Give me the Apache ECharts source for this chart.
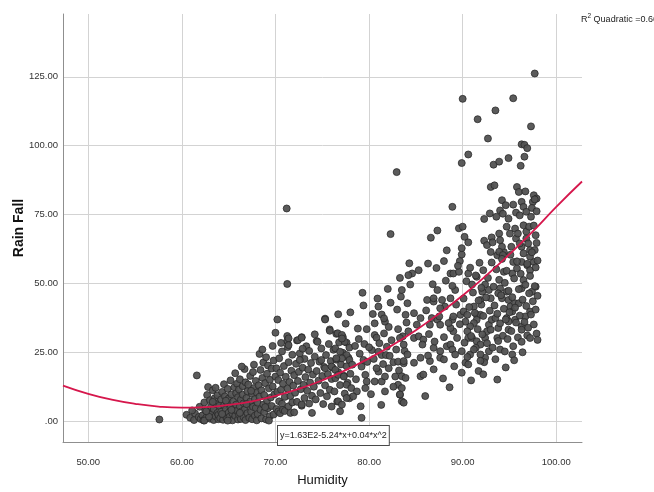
<!DOCTYPE html>
<html>
<head>
<meta charset="utf-8">
<script src="https://cdn.jsdelivr.net/npm/echarts@6/dist/echarts.min.js"></script>
<style>
html,body{margin:0;padding:0;background:#fff;}
#chart{width:654px;height:492px;}
</style>
</head>
<body>
<div id="chart"></div>
<script>
// ---- data ----
const humidityTicks = [50, 60, 70, 80, 90, 100];
const rainTicks = [0, 25, 50, 75, 100, 125];

// quadratic fit line, read at several humidity values
const curveHumidity = [47.3, 50, 52.5, 55, 57.5, 60, 62.5, 65, 67.5, 70, 72.5, 75, 77.5, 80, 82.5, 85, 87.5, 90, 92.5, 95, 97.5, 100, 102.75];
const curveRain = [12.9, 9.9, 7.8, 6.3, 5.3, 4.9, 5.1, 5.9, 7.2, 9.2, 11.7, 14.8, 18.5, 22.8, 27.6, 33.0, 39.1, 45.6, 52.8, 60.6, 68.9, 77.8, 87.0];

// observations [humidity, rain fall]
const obsLow = [
[57.6,0.6],[60.5,2.3],[60.9,1.2],[61.3,0.4],[61.4,2.8],[61.6,16.6],[61.8,1.5],[61.9,5.2],[62.0,0.8],[61.1,3.9],
[62.2,2.1],[62.3,0.3],[62.4,6.8],[62.5,4.0],[62.6,1.3],[62.7,9.5],[62.8,12.4],[62.9,3.2],[63.0,0.9],[63.0,7.6],[63.1,5.1],[63.2,2.5],[63.3,11.2],[63.4,0.4],[63.4,4.4],[63.5,8.3],[63.6,12.1],[63.6,1.8],[63.7,6.1],[63.8,3.0],[63.8,9.4],[63.9,0.7],[64.0,5.6],[62.4,0.2],[62.9,1.6],[63.3,7.0],[63.9,2.3],[62.6,3.6],
[64.1,1.1],[64.2,7.9],[64.2,3.4],[64.3,10.6],[64.4,0.5],[64.5,5.7],[64.5,13.4],[64.6,2.2],[64.6,9.0],[64.7,4.3],[64.8,0.9],[64.8,6.9],[64.9,11.7],[65.0,3.1],[65.0,8.2],[65.1,1.6],[65.2,14.8],[65.2,5.0],[65.3,9.7],[65.4,0.3],[65.4,2.8],[65.5,7.2],[65.6,12.3],[65.6,4.6],[65.7,17.4],[65.7,1.9],[65.8,6.0],[65.8,10.1],[65.9,3.7],[66.0,0.6],[66.0,8.7],[64.3,2.6],[64.9,0.2],[65.3,4.1],[65.9,13.6],[64.7,7.4],
[66.1,2.4],[66.1,11.5],[66.2,5.4],[66.2,15.2],[66.3,0.8],[66.3,7.8],[66.4,3.6],[66.5,12.7],[66.5,9.6],[66.6,1.4],[66.6,6.5],[66.7,18.9],[66.7,4.2],[66.8,14.1],[66.8,0.4],[66.9,8.4],[67.0,2.9],[67.0,10.8],[67.1,5.9],[67.1,13.3],[67.2,1.2],[67.3,7.1],[67.3,16.4],[67.4,3.4],[67.5,9.9],[67.5,0.7],[67.6,17.8],[67.6,5.2],[67.7,12.0],[67.8,2.0],[67.8,8.0],[67.9,14.6],[67.9,4.8],[68.0,10.4],[68.0,0.3],[66.4,19.8],[66.9,6.2],[67.4,11.0],[67.7,20.5],[66.2,3.0],
[68.1,6.7],[68.1,2.6],[68.2,13.0],[68.3,24.4],[68.3,8.9],[68.4,4.1],[68.4,18.6],[68.5,1.0],[68.5,11.2],[68.6,15.7],[68.7,6.0],[68.7,21.3],[68.8,3.3],[68.8,9.5],[68.9,13.8],[69.0,23.2],[69.0,0.6],[69.1,7.5],[69.1,17.2],[69.2,20.2],[69.2,4.7],[69.3,11.9],[69.4,1.8],[69.4,15.0],[69.5,8.6],[69.6,19.1],[69.6,5.5],[69.7,12.6],[69.8,2.4],[69.8,22.0],[69.9,9.8],[70.0,16.2],[70.0,32.1],[68.6,26.0],[69.3,0.2],[68.9,5.1],[69.7,27.3]
];
const obsMid = [
[70.1,19.2],[70.1,4.4],[70.2,36.9],[70.2,10.6],[70.3,3.5],[70.3,14.9],[70.4,7.2],[70.4,22.8],[70.5,2.9],[70.5,17.6],[70.6,11.4],[70.7,25.3],[70.7,6.3],[70.8,4.1],[70.8,13.6],[70.9,20.0],[71.0,8.8],[71.0,3.7],[71.1,16.1],[71.2,77.2],[71.26,49.8],[71.26,30.9],[71.26,29.1],[71.3,26.9],[71.3,11.8],[71.4,5.4],[71.4,21.4],[71.5,14.2],[71.6,3.0],[71.6,9.1],[71.7,18.3],[71.8,24.1],[71.8,6.8],[71.9,12.9],[72.0,3.2],[72.0,16.7],[70.6,28.4],
[72.1,10.3],[72.2,20.8],[72.3,29.3],[72.3,7.0],[72.4,14.6],[72.5,17.9],[72.6,24.6],[72.7,11.6],[72.8,30.5],[72.8,5.6],[72.9,19.4],[73.0,13.2],[73.1,8.4],[73.1,22.6],[73.2,16.0],[73.3,27.2],[73.4,11.0],[73.5,18.7],[73.6,6.4],[73.6,25.5],[73.7,14.0],[73.8,21.1],[73.9,9.2],[74.0,16.9],[72.9,26.3],
[74.1,12.5],[74.2,23.4],[74.3,7.9],[74.4,29.1],[74.4,18.2],[74.6,14.7],[74.7,21.6],[74.8,10.2],[74.9,26.4],[75.0,16.4],[75.1,6.2],[75.2,19.7],[75.3,37.2],[75.3,13.0],[75.4,24.0],[75.5,9.0],[75.6,17.1],[75.7,28.0],[75.8,33.3],[75.8,11.4],[75.9,21.8],[76.0,15.3],[76.0,5.3],[74.2,31.5],
[76.1,19.4],[76.2,25.9],[76.3,10.8],[76.4,15.6],[76.5,31.7],[76.5,22.3],[76.6,7.1],[76.7,17.8],[76.8,28.6],[76.9,13.1],[77.0,20.6],[77.2,30.5],[77.2,24.8],[77.3,16.5],[77.4,10.0],[77.5,35.4],[77.6,28.5],[77.6,19.9],[77.7,13.9],[77.8,23.0],[77.9,8.3],[78.0,17.2],[78.0,39.5],[76.7,38.8],[77.9,26.7],
[79.3,46.6],[82.3,43.0],[75.3,36.9],[75.8,32.8],[76.65,31.9],[77.1,31.3],[77.4,28.8],[77.1,30.0],[81.35,38.7],[80.6,35.5],[79.75,33.4],[80.6,31.25],[80.8,30.3],[81.6,31.85],[81.7,36.1],[81.6,37.3],[83.1,33.4],[78.9,29.8],[71.4,30.05],[71.4,27.6],[72.4,29.4],[72.8,30.3],[74.5,28.8],[76.4,26.4],[76.9,25.2],[77.6,24.0],[77.9,22.2],[77.1,22.8],[76.5,22.8],[79.4,22.2],[79.2,19.8],[80.3,25.8],[81.0,25.2],[81.35,24.0],[81.8,24.0],[82.2,23.7],[82.6,21.4],[83.1,21.6],[83.7,21.0],[72.6,22.2],[74.9,22.2],[75.3,19.2],[76.0,19.8],[76.4,18.6],[76.7,16.8],[77.3,16.2],[77.6,13.2],[78.1,12.0],[78.7,10.8],[78.3,9.0],[77.6,8.4],[76.7,7.2],[76.9,3.6],[77.1,6.0],[79.6,16.8],[79.75,14.4],[79.6,12.0],[80.6,14.4],[81.35,14.4],[81.0,18.0],[80.8,19.2],[82.1,19.2],[81.7,16.2],[82.8,16.2],[83.1,13.2],[83.5,12.0],[83.5,7.2],[83.3,9.6],[81.7,10.8],[79.2,1.2],[73.9,3.0],[72.8,6.0],
[78.2,20.5],[78.5,27.3],[78.6,15.2],[78.8,33.6],[79.0,24.5],[79.1,5.4],[79.5,28.0],[79.8,21.5],[80.0,26.8],[80.2,9.8],[80.4,38.9],[80.5,22.6],[80.9,44.5],[81.1,28.3],[81.3,5.9],[81.5,20.7],[81.9,27.0],[82.1,34.2],[82.4,29.4],[82.6,12.5],[82.9,26.0],[83.0,40.5],[83.2,18.4],[83.4,45.2],[83.6,30.8],[83.8,25.5],[84.0,35.8],[82.3,67.9],[82.95,90.4],[81.0,41.6],[82.0,48.0],[83.3,52.0],[84.3,57.3],[79.4,42.0]
];
const obsHigh = [
[89.9,60.5],[89.7,58.1],[88.0,58.1],[86.3,57.2],[85.3,54.8],[84.6,53.6],[84.2,53.0],[88.7,53.6],[89.0,53.6],[89.6,54.2],[90.6,53.6],[88.2,51.0],[84.4,49.6],[87.3,47.6],[89.2,47.6],[91.5,52.4],[92.2,54.8],[91.0,49.6],[92.4,49.6],[92.8,47.6],[92.1,47.0],[93.0,44.6],[91.9,44.0],[94.0,48.2],[93.8,46.4],[94.7,47.0],[94.2,44.6],[94.9,44.0],[95.1,41.6],[95.6,42.8],[96.0,42.8],[96.3,48.2],[96.5,51.2],[96.3,57.8],[96.9,56.6],[97.2,54.8],[97.6,57.8],[97.8,48.8],[97.4,47.0],[93.0,61.4],[93.7,60.2],[94.4,61.4],[95.4,57.8],[95.8,55.4],[95.3,53.6],[94.4,54.2],
[84.1,42.8],[83.5,47.6],[86.2,44.0],[86.9,43.4],[86.9,44.6],[88.7,44.6],[88.1,41.6],[87.6,41.0],[83.9,38.6],[84.8,39.2],[85.5,37.4],[86.7,37.4],[87.3,36.8],[87.6,35.0],[86.5,35.0],[85.1,35.0],[84.2,32.6],[83.3,30.2],[83.7,27.8],[84.8,30.2],[85.3,30.8],[85.8,29.6],[85.7,27.8],[86.9,26.6],[87.6,25.4],[84.1,24.2],[83.7,21.8],[84.8,21.2],[85.5,23.0],[86.5,21.8],[86.9,18.8],[87.6,23.0],[88.0,22.4],[88.3,27.2],[88.7,27.8],[88.9,26.0],[89.2,24.2],[89.9,25.4],[89.4,30.2],[89.0,32.6],[88.7,33.8],[88.9,36.8],[89.0,38.0],[89.75,38.6],[90.1,39.8],[90.5,38.6],[91.2,41.6],[91.5,38.6],[91.9,38.6],[91.5,36.8],[91.2,35.6],[90.8,34.4],[90.5,32.6],[90.6,30.2],[91.0,30.2],[91.5,29.0],[91.9,27.8],[92.4,30.2],[92.6,32.6],[92.8,35.0],[93.1,36.8],[93.5,37.4],[93.8,33.8],[93.7,30.2],[94.0,26.0],[92.8,25.4],[92.4,23.0],[91.9,24.2],[91.4,26.6],[90.8,24.2],[90.3,21.2],[90.6,20.6],[89.9,17.6],[91.7,18.2],[93.7,15.1],[95.3,24.2],[94.7,37.4],[94.9,36.2],[94.9,33.2],[96.3,34.4],[96.3,33.2],[96.9,31.1],[97.2,30.2],[96.7,38.0],[97.2,39.8],[95.3,39.8],[95.6,36.8],[85.5,16.3],[85.8,16.9],[83.5,16.3],[83.9,15.7],[86.0,9.1],[83.3,9.7],[83.7,6.7],
[91.6,109.6],[97.3,107.0],[92.7,102.6],[96.3,100.5],[96.6,100.3],[96.9,99.1],[96.6,96.0],[90.6,96.8],[89.9,93.7],[93.3,93.1],[93.9,94.2],[94.9,95.5],[96.2,92.7],[93.0,85.0],[93.4,85.6],[95.8,85.0],[96.0,83.2],[96.7,83.4],[97.6,82.0],[97.9,80.8],[97.5,79.6],[88.9,77.8],[94.2,80.2],[94.6,78.4],[95.4,78.6],[96.3,79.6],[96.5,77.8],[92.3,73.4],[92.9,75.4],[93.6,74.2],[94.0,76.5],[94.3,75.3],[94.9,73.5],[95.7,75.7],[96.1,74.7],[96.8,76.0],[97.4,77.4],[97.3,74.2],[87.3,69.2],[86.6,66.6],[89.6,70.0],[90.0,70.6],[90.2,66.9],[90.6,64.9],[92.3,65.5],[92.6,63.9],[93.1,66.7],[93.2,64.9],[93.9,68.1],[94.0,65.7],[94.2,63.3],[94.7,70.6],[95.05,68.1],[95.6,69.9],[95.7,66.3],[95.9,68.1],[96.5,71.1],[96.8,68.8],[96.8,66.3],[97.1,70.6],[96.3,63.3],[97.2,62.1],[97.7,62.1],[97.0,64.5],
[97.7,126.2],[90.0,117.0],[95.4,117.2],[93.5,112.8],[93.9,61.5],[94.3,60.3],[95.2,63.3],[96.1,64.5],[97.2,59.7],
[92.0,42.3],[92.1,31.5],[92.2,38.2],[92.3,21.4],[92.5,44.9],[92.6,28.3],[92.7,52.0],[92.9,40.1],[93.0,33.2],[93.1,57.6],[93.2,26.7],[93.3,48.8],[93.4,42.0],[93.5,22.5],[93.6,55.1],[93.7,39.0],[93.8,29.1],[93.9,51.3],[94.0,35.5],[94.1,45.7],[94.2,58.9],[94.3,31.0],[94.4,40.8],[94.5,25.3],[94.5,50.2],[94.6,36.9],[94.7,54.6],[94.8,29.8],[94.9,47.3],[95.0,39.5],[95.1,60.4],[95.2,32.7],[95.3,45.0],[95.4,27.2],[95.5,51.8],[95.6,41.2],[95.7,35.8],[95.8,58.0],[95.9,30.4],[96.0,47.9],[96.1,38.3],[96.2,53.5],[96.3,28.8],[96.4,44.1],[96.5,60.9],[96.6,36.0],[96.7,49.5],[96.8,41.8],[96.9,57.1],[97.0,33.9],[97.1,46.4],[97.2,52.7],[97.3,38.7],[97.4,61.3],[97.5,43.5],[97.6,35.1],[97.7,49.0],[97.8,55.8],[97.8,40.5],[97.9,31.8],[97.9,64.7],[98.0,45.5],[98.0,58.3],[97.7,80.5],[97.9,76.2],[97.6,71.0],[97.8,67.5],[98.0,29.5],
[90.1,44.5],[90.2,28.5],[90.3,36.1],[90.4,50.8],[90.5,23.3],[90.7,41.4],[90.8,55.7],[90.9,30.9],[91.1,46.7],[91.2,26.0],[91.3,39.3],[91.4,52.9],[91.6,33.4],[91.7,43.8],[91.8,57.5],[91.9,21.9],[92.0,48.4],
[90.9,14.8],[92.2,17.0],[94.6,19.5],[95.5,22.1],[96.4,25.0],
[86.1,40.2],[86.4,31.6],[86.8,49.7],[87.0,28.9],[87.2,55.6],[87.5,38.0],[87.8,44.0],[88.0,30.5],[88.3,62.0],[88.5,35.6],[88.9,49.1],[89.1,19.9],[89.3,42.3],[89.5,56.4],[89.7,35.2],[89.9,62.8],[86.3,23.8],[87.9,15.5],[88.6,12.3]
];

const observations = obsLow.concat(obsMid, obsHigh);
const curveData = curveHumidity.map((h, i) => [h, curveRain[i]]);

const FONT = '"Liberation Sans", Arial, sans-serif';
const chart = echarts.init(document.getElementById('chart'), null, {renderer: 'canvas'});

chart.setOption({
  backgroundColor: '#ffffff',
  animation: false,
  grid: {left: 63, right: 72, top: 14, bottom: 47, containLabel: false},
  xAxis: {
    type: 'value',
    min: 47.3,
    max: 102.75,
    name: 'Humidity',
    nameLocation: 'middle',
    nameGap: 32,
    nameMoveOverlap: false,
    nameTextStyle: {fontFamily: FONT, fontSize: 13, color: '#111'},
    axisLine: {show: true, onZero: false, lineStyle: {color: '#8f8f8f', width: 1}},
    axisTick: {show: false, customValues: humidityTicks},
    axisLabel: {
      customValues: humidityTicks,
      margin: 15,
      fontFamily: FONT, fontSize: 9.5, color: '#333',
      formatter: v => v.toFixed(2)
    },
    splitLine: {show: true, lineStyle: {color: '#d3d3d3', width: 1}}
  },
  yAxis: {
    type: 'value',
    min: -7.57,
    max: 147.8,
    name: 'Rain Fall',
    nameLocation: 'middle',
    nameGap: 37,
    nameMoveOverlap: false,
    nameTextStyle: {fontFamily: FONT, fontSize: 14, fontWeight: 'bold', color: '#111'},
    axisLine: {show: true, onZero: false, lineStyle: {color: '#8f8f8f', width: 1}},
    axisTick: {show: false, customValues: rainTicks},
    axisLabel: {
      customValues: rainTicks,
      margin: 5,
      fontFamily: FONT, fontSize: 9.5, color: '#333',
      formatter: v => (v === 0 ? '.00' : v.toFixed(2))
    },
    splitLine: {show: true, lineStyle: {color: '#d3d3d3', width: 1}}
  },
  series: [
    {
      type: 'scatter',
      data: observations,
      symbol: 'circle',
      symbolSize: 7,
      itemStyle: {color: '#525252', borderColor: '#262626', borderWidth: 0.8, opacity: 0.95},
      z: 2
    },
    {
      type: 'line',
      data: curveData,
      smooth: true,
      showSymbol: false,
      symbol: 'none',
      lineStyle: {color: '#d6174c', width: 1.8},
      z: 3
    }
  ],
  graphic: [
    {
      type: 'text',
      left: 277,
      top: 425,
      z: 10,
      style: {
        text: 'y=1.63E2-5.24*x+0.04*x^2',
        fontFamily: FONT,
        fontSize: 9,
        fill: '#222',
        backgroundColor: '#ffffff',
        borderColor: '#4a4a4a',
        borderWidth: 1,
        padding: [5, 2, 5, 2]
      }
    },
    {
      type: 'text',
      left: 581,
      top: 13,
      z: 10,
      style: {
        text: '{a|R}{s|2}{a| Quadratic =0.666}',
        rich: {
          a: {fontFamily: FONT, fontSize: 9, fill: '#222', verticalAlign: 'bottom'},
          s: {fontFamily: FONT, fontSize: 6.5, fill: '#222', verticalAlign: 'top', padding: [0, 0, 4, 0]}
        }
      }
    }
  ]
});
</script>
</body>
</html>
